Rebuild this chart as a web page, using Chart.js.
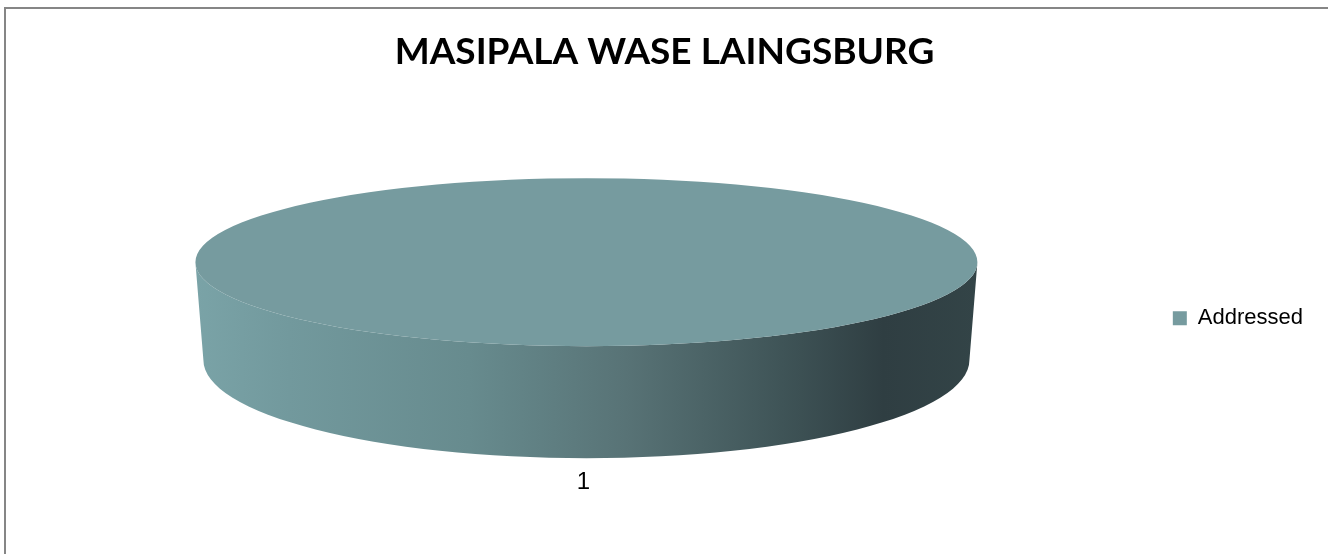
<!DOCTYPE html>
<html lang="en">
<head>
<meta charset="UTF-8">
<title>Masipala wase Laingsburg</title>
<script src="https://cdn.jsdelivr.net/npm/chart.js"></script>
<style>
    html, body {
        margin: 0;
        padding: 0;
        background: #fff;
        overflow: hidden;
    }
    #wrap {
        position: relative;
        width: 1328px;
        height: 554px;
    }
    /* marco gris: solo se ven el borde superior e izquierdo */
    #marco {
        position: absolute;
        left: 4px;
        top: 7px;
        width: 2000px;
        height: 2000px;
        border: 2px solid #868686;
        pointer-events: none;
    }
</style>
</head>
<body>
<div id="wrap">
    <canvas id="grafico" width="1328" height="554"></canvas>
    <div id="marco"></div>
</div>

<script>
    // Datos del gráfico
    const categorias = ['Addressed'];
    const valores = [1];
    const etiquetasValor = ['1'];

    // Medidas del pastel en 3D (elipse superior, inferior y grosor)
    const TOP_RX = 391, TOP_RY = 84;
    const BOT_RX = 383, BOT_RY = 98;
    const PROFUNDIDAD = 98;
    const SUBIDA = 56;      // la cara superior queda por encima del centro del área
    const LABEL_DY = 164;   // distancia del centro al rótulo "1"

    // Plugin que aplana el pastel y dibuja el canto con degradado
    const pastel3D = {
        id: 'pastel3D',
        beforeDatasetsDraw(chart) {
            const arco = chart.getDatasetMeta(0).data[0];
            if (!arco) return;
            const ctx = chart.ctx;
            const cx = arco.x;
            const cyT = arco.y - SUBIDA;
            const cyB = cyT + PROFUNDIDAD;

            // canto frontal
            const grad = ctx.createLinearGradient(cx - TOP_RX, 0, cx + TOP_RX, 0);
            grad.addColorStop(0, '#7aa3a7');
            grad.addColorStop(0.12, '#72999d');
            grad.addColorStop(0.35, '#678b8e');
            grad.addColorStop(0.55, '#587376');
            grad.addColorStop(0.75, '#3f5457');
            grad.addColorStop(0.88, '#2f3e42');
            grad.addColorStop(1, '#334447');
            ctx.save();
            ctx.beginPath();
            ctx.moveTo(cx - TOP_RX, cyT);
            ctx.lineTo(cx - BOT_RX, cyB);
            ctx.ellipse(cx, cyB, BOT_RX, BOT_RY, 0, Math.PI, 0, true);
            ctx.lineTo(cx + TOP_RX, cyT);
            ctx.ellipse(cx, cyT, TOP_RX, TOP_RY, 0, 0, Math.PI, false);
            ctx.closePath();
            ctx.fillStyle = grad;
            ctx.fill();
            ctx.restore();

            // la cara superior la dibuja Chart.js, aplastada
            const r = arco.outerRadius;
            ctx.save();
            ctx.translate(cx, cyT);
            ctx.scale(TOP_RX / r, TOP_RY / r);
            ctx.translate(-arco.x, -arco.y);
        },
        afterDatasetsDraw(chart) {
            const arco = chart.getDatasetMeta(0).data[0];
            if (!arco) return;
            const ctx = chart.ctx;
            ctx.restore();

            // rótulo del valor debajo del pastel
            ctx.save();
            ctx.fillStyle = '#000';
            ctx.font = '24px "Liberation Sans", Arial, sans-serif';
            ctx.textAlign = 'center';
            ctx.textBaseline = 'middle';
            ctx.fillText(etiquetasValor[0], arco.x - 3, arco.y + LABEL_DY);
            ctx.restore();
        }
    };

    const ctx = document.getElementById('grafico').getContext('2d');
    const grafico = new Chart(ctx, {
        type: 'pie',
        data: {
            labels: categorias,
            datasets: [{
                data: valores,
                backgroundColor: ['#769b9f'],
                borderWidth: 0
            }]
        },
        options: {
            responsive: false,
            animation: false,
            layout: {
                padding: { left: 16, right: 15, top: 0, bottom: 3 }
            },
            plugins: {
                title: {
                    display: true,
                    text: 'MASIPALA WASE LAINGSBURG',
                    color: '#000',
                    font: { family: 'Lato', size: 37, weight: 'bold' },
                    padding: { top: 30, bottom: 11 }
                },
                legend: {
                    position: 'right',
                    fullSize: false,
                    labels: {
                        color: '#000',
                        boxWidth: 14,
                        boxHeight: 14,
                        padding: 16,
                        font: { family: '"Liberation Sans", Arial', size: 22 }
                    }
                },
                tooltip: { enabled: false }
            }
        },
        plugins: [pastel3D]
    });
</script>
</body>
</html>
